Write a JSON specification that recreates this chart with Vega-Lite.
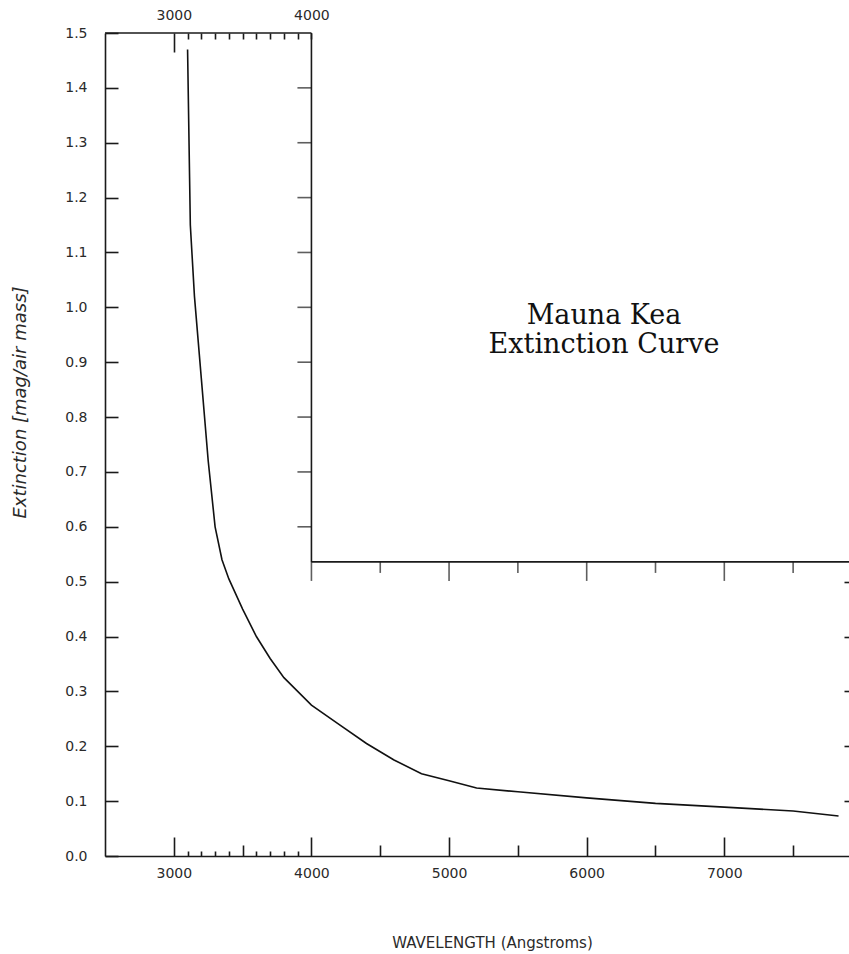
{
  "$schema": "https://vega.github.io/schema/vega-lite/v6.json",
  "width": 744,
  "height": 823,
  "autosize": {"type": "none"},
  "padding": {"left": 105, "top": 33, "right": 0, "bottom": 98},
  "background": "white",
  "config": {
    "view": {"stroke": null},
    "axis": {
      "grid": false,
      "labelFont": "DejaVu Sans",
      "labelFontSize": 14,
      "labelColor": "#2a2a2a",
      "titleFont": "DejaVu Sans",
      "titleFontSize": 15,
      "titleFontWeight": "normal",
      "titleColor": "#2a2a2a",
      "domainColor": "#1a1a1a",
      "tickColor": "#1a1a1a",
      "domainWidth": 1.6,
      "tickWidth": 1.6,
      "labelOverlap": false,
      "labelFlush": false
    }
  },
  "datasets": {
    "curve": [
      {"w": 3100, "e": 1.47},
      {"w": 3120, "e": 1.15},
      {"w": 3150, "e": 1.02},
      {"w": 3200, "e": 0.87},
      {"w": 3250, "e": 0.72},
      {"w": 3300, "e": 0.6},
      {"w": 3350, "e": 0.54},
      {"w": 3400, "e": 0.505},
      {"w": 3500, "e": 0.45},
      {"w": 3600, "e": 0.4},
      {"w": 3700, "e": 0.36},
      {"w": 3800, "e": 0.325},
      {"w": 3900, "e": 0.3},
      {"w": 4000, "e": 0.275},
      {"w": 4200, "e": 0.24},
      {"w": 4400, "e": 0.205},
      {"w": 4600, "e": 0.175},
      {"w": 4800, "e": 0.15},
      {"w": 5000, "e": 0.137},
      {"w": 5200, "e": 0.124},
      {"w": 5500, "e": 0.117},
      {"w": 6000, "e": 0.106},
      {"w": 6500, "e": 0.096},
      {"w": 7000, "e": 0.089},
      {"w": 7500, "e": 0.082},
      {"w": 7830, "e": 0.073}
    ],
    "vticks": [
      {"e": 0.6}, {"e": 0.7}, {"e": 0.8}, {"e": 0.9}, {"e": 1.0},
      {"e": 1.1}, {"e": 1.2}, {"e": 1.3}, {"e": 1.4}
    ],
    "insetMajor": [{"w": 4000}, {"w": 5000}, {"w": 6000}, {"w": 7000}],
    "insetMinor": [{"w": 4500}, {"w": 5500}, {"w": 6500}, {"w": 7500}]
  },
  "layer": [
    {
      "data": {"name": "curve"},
      "mark": {"type": "line", "color": "#111", "strokeWidth": 1.6},
      "encoding": {
        "x": {
          "field": "w", "type": "quantitative",
          "scale": {"domain": [2500, 7906], "nice": false, "zero": false},
          "axis": {
            "orient": "bottom",
            "values": [3000, 3100, 3200, 3300, 3400, 3500, 3600, 3700, 3800, 3900, 4000, 4500, 5000, 5500, 6000, 6500, 7000, 7500],
            "format": "d",
            "labelExpr": "datum.value % 1000 == 0 ? datum.label : ''",
            "tickSize": -19,
            "tickDash": {
              "condition": [
                {"test": "datum.value % 1000 == 0", "value": [19, 40]},
                {"test": "datum.value % 500 == 0", "value": [11, 40]}
              ],
              "value": [5, 40]
            },
            "labelPadding": 29,
            "title": "WAVELENGTH (Angstroms)",
            "titleX": 387,
            "titleY": 86,
            "titleBaseline": "middle",
            "titleAlign": "center"
          }
        },
        "y": {
          "field": "e", "type": "quantitative",
          "scale": {"domain": [0, 1.5], "nice": false, "zero": false},
          "axis": {
            "orient": "left",
            "values": [0, 0.1, 0.2, 0.3, 0.4, 0.5, 0.6, 0.7, 0.8, 0.9, 1.0, 1.1, 1.2, 1.3, 1.4, 1.5],
            "format": ".1f",
            "tickSize": -13,
            "labelPadding": 31,
            "title": "Extinction [mag/air mass]",
            "titleFontStyle": "italic",
            "titleFontSize": 18,
            "titleX": -85,
            "titleY": 369,
            "titleBaseline": "middle",
            "titleAlign": "center",
            "titleAngle": -90
          }
        }
      }
    },
    {
      "data": {"values": [{}]},
      "mark": {"type": "rule", "color": "#1a1a1a", "strokeWidth": 1.6},
      "encoding": {
        "x": {
          "datum": 2500, "type": "quantitative",
          "scale": {"domain": [2500, 7906], "nice": false, "zero": false},
          "axis": {
            "orient": "top",
            "values": [3000, 3100, 3200, 3300, 3400, 3500, 3600, 3700, 3800, 3900, 4000],
            "format": "d",
            "domain": false,
            "labelExpr": "datum.value % 1000 == 0 ? datum.label : ''",
            "tickSize": -19,
            "tickDash": {
              "condition": {"test": "datum.value == 3000", "value": [19, 40]},
              "value": [6, 40]
            },
            "labelPadding": 30,
            "title": null
          }
        },
        "x2": {"datum": 4000},
        "y": {
          "datum": 1.5, "type": "quantitative",
          "scale": {"domain": [0, 1.5], "nice": false, "zero": false},
          "axis": {
            "orient": "right",
            "values": [0.1, 0.2, 0.3, 0.4, 0.5],
            "domain": false,
            "labels": false,
            "tickSize": -5,
            "title": null
          }
        }
      }
    },
    {
      "data": {"values": [{}]},
      "mark": {"type": "rule", "color": "#1a1a1a", "strokeWidth": 1.6},
      "encoding": {
        "x": {"datum": 4000, "type": "quantitative", "scale": {"domain": [2500, 7906], "nice": false, "zero": false}, "axis": null},
        "y": {"datum": 1.5, "type": "quantitative", "scale": {"domain": [0, 1.5], "nice": false, "zero": false}, "axis": null},
        "y2": {"datum": 0.536}
      }
    },
    {
      "data": {"values": [{}]},
      "mark": {"type": "rule", "color": "#1a1a1a", "strokeWidth": 1.6},
      "encoding": {
        "x": {"datum": 4000, "type": "quantitative", "scale": {"domain": [2500, 7906], "nice": false, "zero": false}, "axis": null},
        "x2": {"datum": 7906},
        "y": {"datum": 0.536, "type": "quantitative", "scale": {"domain": [0, 1.5], "nice": false, "zero": false}, "axis": null}
      }
    },
    {
      "data": {"name": "vticks"},
      "mark": {"type": "tick", "orient": "horizontal", "size": 14, "thickness": 1.6, "xOffset": -7, "color": "#1a1a1a"},
      "encoding": {
        "x": {"datum": 4000, "type": "quantitative", "scale": {"domain": [2500, 7906], "nice": false, "zero": false}, "axis": null},
        "y": {"field": "e", "type": "quantitative", "scale": {"domain": [0, 1.5], "nice": false, "zero": false}, "axis": null}
      }
    },
    {
      "data": {"name": "insetMajor"},
      "mark": {"type": "tick", "orient": "vertical", "size": 19, "thickness": 1.6, "yOffset": 9.5, "color": "#1a1a1a"},
      "encoding": {
        "x": {"field": "w", "type": "quantitative", "scale": {"domain": [2500, 7906], "nice": false, "zero": false}, "axis": null},
        "y": {"datum": 0.536, "type": "quantitative", "scale": {"domain": [0, 1.5], "nice": false, "zero": false}, "axis": null}
      }
    },
    {
      "data": {"name": "insetMinor"},
      "mark": {"type": "tick", "orient": "vertical", "size": 11, "thickness": 1.6, "yOffset": 5.5, "color": "#1a1a1a"},
      "encoding": {
        "x": {"field": "w", "type": "quantitative", "scale": {"domain": [2500, 7906], "nice": false, "zero": false}, "axis": null},
        "y": {"datum": 0.536, "type": "quantitative", "scale": {"domain": [0, 1.5], "nice": false, "zero": false}, "axis": null}
      }
    },
    {
      "data": {"values": [{}]},
      "mark": {"type": "text", "font": "DejaVu Serif", "fontSize": 27, "align": "center", "baseline": "alphabetic", "lineHeight": 29, "color": "#111"},
      "encoding": {
        "x": {"datum": 6126, "type": "quantitative", "scale": {"domain": [2500, 7906], "nice": false, "zero": false}, "axis": null},
        "y": {"datum": 0.97, "type": "quantitative", "scale": {"domain": [0, 1.5], "nice": false, "zero": false}, "axis": null},
        "text": {"value": ["Mauna Kea", "Extinction Curve"]}
      }
    }
  ],
  "resolve": {"axis": {"x": "independent", "y": "independent"}}
}
